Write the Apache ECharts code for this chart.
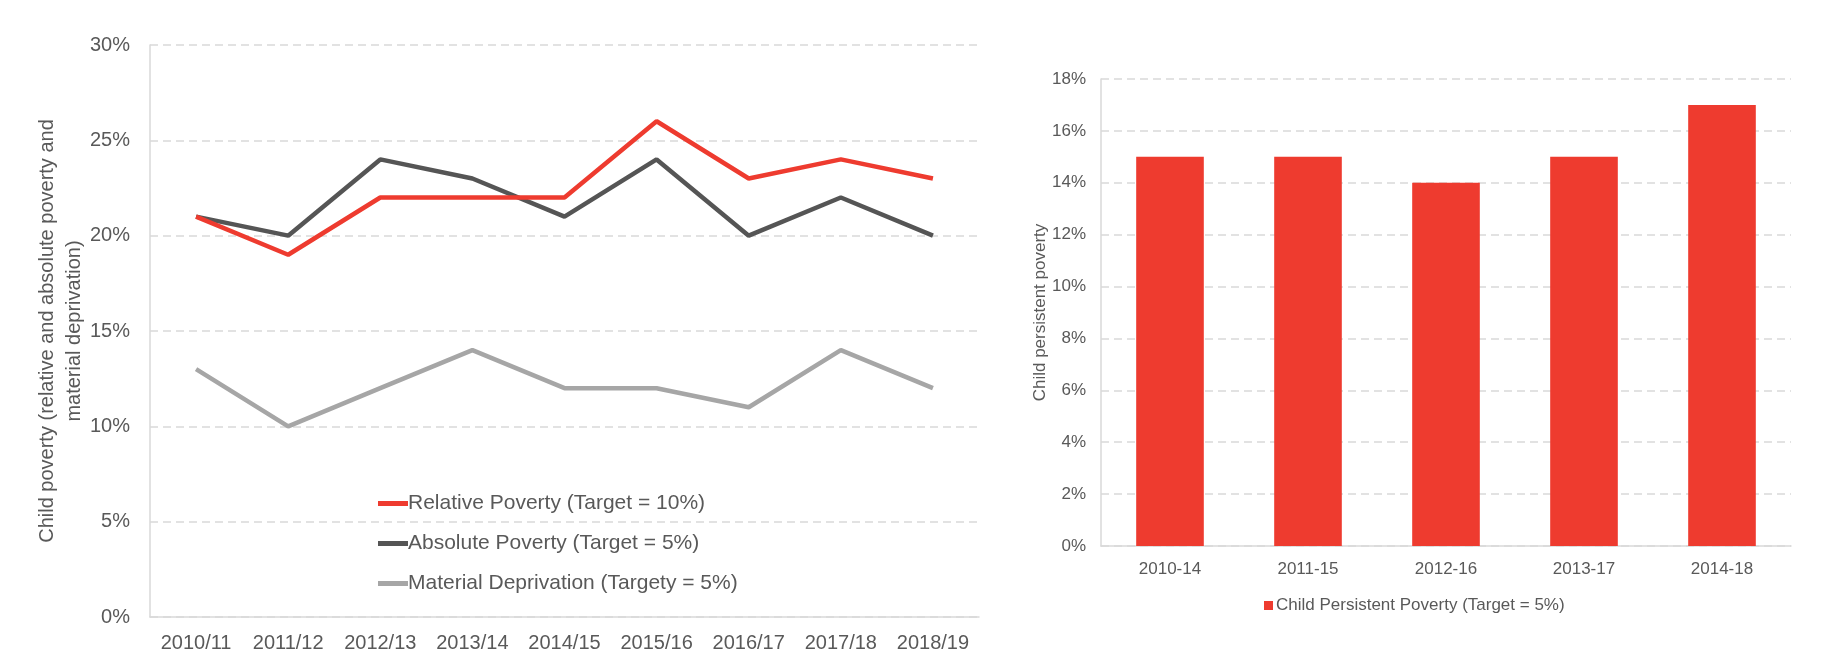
<!DOCTYPE html>
<html>
<head>
<meta charset="utf-8">
<script src="https://cdn.jsdelivr.net/npm/echarts@6/dist/echarts.min.js"></script>
<style>
html,body{margin:0;padding:0;background:#fff;}
#c{width:1828px;height:667px;}
</style>
</head>
<body>
<div id="c"></div>
<script>
// ---- data ----
const yearCats = ['2010/11','2011/12','2012/13','2013/14','2014/15','2015/16','2016/17','2017/18','2018/19'];
const relativePoverty = [21, 19, 22, 22, 22, 26, 23, 24, 23];
const absolutePoverty = [21, 20, 24, 23, 21, 24, 20, 22, 20];
const materialDeprivation = [13, 10, 12, 14, 12, 12, 11, 14, 12];
const periodCats = ['2010-14','2011-15','2012-16','2013-17','2014-18'];
const persistentPoverty = [15, 15, 14, 15, 17];
const seriesNames = ['Relative Poverty (Target = 10%)','Absolute Poverty (Target = 5%)','Material Deprivation (Targety = 5%)'];
const barName = 'Child Persistent Poverty (Target = 5%)';

const FONT = "'Liberation Sans', Arial, sans-serif";
const TXT = '#595959';
const RED = '#EE3B2F';
const DARK = '#555555';
const LIGHT = '#A6A6A6';
const GRID = '#D9D9D9';

const chart = echarts.init(document.getElementById('c'), null, {renderer:'canvas'});
chart.setOption({
  backgroundColor: '#fff',
  animation: false,
  textStyle: {fontFamily: FONT, color: TXT},
  grid: [
    {left: 150, top: 45, width: 829, height: 572, outerBoundsMode: 'none'},
    {left: 1101, top: 79, width: 690, height: 467, outerBoundsMode: 'none'}
  ],
  legend: [
    {
      data: seriesNames,
      orient: 'vertical',
      left: 373, top: 488,
      icon: 'rect', itemWidth: 30, itemHeight: 5, itemGap: 19,
      textStyle: {fontSize: 21, color: TXT, fontFamily: FONT, padding: [0,0,0,-5]}
    },
    {
      data: [barName],
      left: 1259, top: 592,
      icon: 'rect', itemWidth: 9, itemHeight: 9,
      textStyle: {fontSize: 17, color: TXT, fontFamily: FONT, padding: [0,0,0,-2]}
    }
  ],
  xAxis: [
    {
      type: 'category', gridIndex: 0, data: yearCats, boundaryGap: true,
      axisLine: {show: true, lineStyle: {color: GRID, width: 1.5}},
      axisTick: {show: false},
      axisLabel: {fontSize: 20, color: TXT, margin: 16, fontFamily: FONT, interval: 0},
      splitLine: {show: false}
    },
    {
      type: 'category', gridIndex: 1, data: periodCats, boundaryGap: true,
      axisLine: {show: true, lineStyle: {color: GRID, width: 1.5}},
      axisTick: {show: false},
      axisLabel: {fontSize: 17, color: TXT, margin: 15, fontFamily: FONT, interval: 0},
      splitLine: {show: false}
    }
  ],
  yAxis: [
    {
      type: 'value', gridIndex: 0, min: 0, max: 30, interval: 5,
      name: 'Child poverty (relative and absolute poverty and\nmaterial deprivation)',
      nameLocation: 'middle', nameGap: 62, nameRotate: 90, nameMoveOverlap: false,
      nameTextStyle: {fontSize: 20, color: TXT, fontFamily: FONT, lineHeight: 27, align: 'center', verticalAlign: 'bottom'},
      axisLine: {show: true, lineStyle: {color: GRID, width: 1.5}},
      axisTick: {show: false},
      axisLabel: {fontSize: 20, color: TXT, margin: 20, formatter: '{value}%', fontFamily: FONT},
      splitLine: {show: true, lineStyle: {color: GRID, type: [8,5], width: 1.5}}
    },
    {
      type: 'value', gridIndex: 1, min: 0, max: 18, interval: 2,
      name: 'Child persistent poverty',
      nameLocation: 'middle', nameGap: 52, nameRotate: 90, nameMoveOverlap: false,
      nameTextStyle: {fontSize: 17, color: TXT, fontFamily: FONT},
      axisLine: {show: true, lineStyle: {color: GRID, width: 1.5}},
      axisTick: {show: false},
      axisLabel: {fontSize: 17, color: TXT, margin: 15, formatter: '{value}%', fontFamily: FONT},
      splitLine: {show: true, lineStyle: {color: GRID, type: [8,5], width: 1.5}}
    }
  ],
  series: [
    {name: seriesNames[0], type: 'line', xAxisIndex: 0, yAxisIndex: 0, data: relativePoverty,
     showSymbol: false, symbol: 'none', itemStyle: {color: RED}, lineStyle: {color: RED, width: 4.5}, z: 4},
    {name: seriesNames[1], type: 'line', xAxisIndex: 0, yAxisIndex: 0, data: absolutePoverty,
     showSymbol: false, symbol: 'none', itemStyle: {color: DARK}, lineStyle: {color: DARK, width: 4.5}, z: 3},
    {name: seriesNames[2], type: 'line', xAxisIndex: 0, yAxisIndex: 0, data: materialDeprivation,
     showSymbol: false, symbol: 'none', itemStyle: {color: LIGHT}, lineStyle: {color: LIGHT, width: 4.5}, z: 2},
    {name: barName, type: 'bar', xAxisIndex: 1, yAxisIndex: 1, data: persistentPoverty,
     barWidth: '49%', itemStyle: {color: RED}}
  ]
});
</script>
</body>
</html>
